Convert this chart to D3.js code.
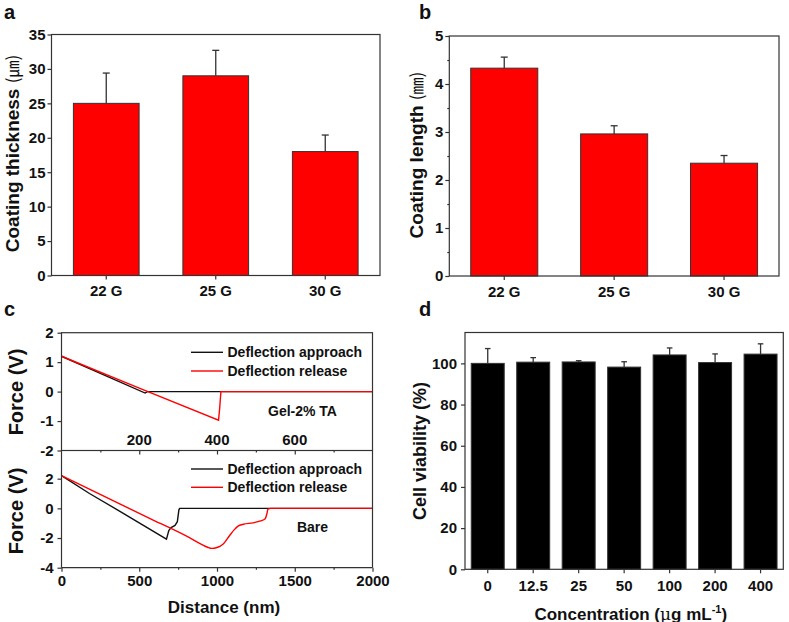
<!DOCTYPE html>
<html>
<head>
<meta charset="utf-8">
<script src="https://cdn.jsdelivr.net/npm/d3@7"></script>
<style>
  body { margin: 0; background: #fff; }
  svg { display: block; font-family: "Liberation Sans", Arial, sans-serif; }
  .tick text { font-weight: bold; font-size: 15px; fill: #111; font-family: "Liberation Sans", Arial, sans-serif; }
  .tick line { stroke: #333; stroke-width: 1.2; }
</style>
</head>
<body>
<div id="chart"></div>
<script>
// panel a: coating thickness
const needleCats = ["22 G", "25 G", "30 G"];
const thickVals = [25, 29, 18];
const thickErr = [4.4, 3.7, 2.4];
const thickTicks = [0, 5, 10, 15, 20, 25, 30, 35];

// panel b: coating length
const lengthVals = [4.33, 2.96, 2.35];
const lengthErr = [0.23, 0.17, 0.16];
const lengthTicks = [0, 1, 2, 3, 4, 5];
const lengthMinor = [0.5, 1.5, 2.5, 3.5, 4.5];

// panel c: force curves (distance nm, force V)
const gelApproach = [[0, 1.2], [100, 0.62], [215, -0.05], [221, 0], [800, 0]];
const gelRelease = [[0, 1.2], [200, 0.12], [404, -0.97], [407, -0.55], [410, 0], [800, 0]];
const bareApproach = [[0, 2.2], [180, 1.0], [400, -0.35], [675, -2.08], [690, -1.5], [705, -1.3],
  [730, -1.15], [745, -0.9], [755, -0.1], [760, 0], [2000, 0]];
const bareRelease = [[0, 2.2], [560, -0.64], [820, -1.96], [900, -2.42], [940, -2.62], [965, -2.7],
  [1000, -2.64], [1040, -2.4], [1080, -1.85], [1110, -1.45], [1135, -1.2], [1170, -1.07],
  [1230, -0.98], [1280, -0.85], [1310, -0.7], [1320, -0.4], [1328, -0.05], [1345, 0], [2000, 0]];
const gelXTicks = [200, 400, 600];
const gelXMinor = [100, 300, 500, 700];
const gelYTicks = [-2, -1, 0, 1, 2];
const bareXTicks = [0, 500, 1000, 1500, 2000];
const bareXMinor = [250, 750, 1250, 1750];
const bareYTicks = [-4, -2, 0, 2];

// panel d: cell viability
const concCats = ["0", "12.5", "25", "50", "100", "200", "400"];
const viabVals = [100, 100.6, 100.7, 98.2, 104.1, 100.4, 104.5];
const viabErr = [7.2, 2.2, 0.6, 2.6, 3.4, 4.2, 5.0];
const viabTicks = [0, 20, 40, 60, 80, 100];

const W = 789, H = 622;
const svg = d3.select("#chart").append("svg").attr("width", W).attr("height", H);
const bold = "bold";
const fmt = d => String(d);

function frame(l, t, r, b) {
  svg.append("rect").attr("x", l).attr("y", t).attr("width", r - l).attr("height", b - t)
    .attr("fill", "none").attr("stroke", "#333").attr("stroke-width", 1.2);
}

function tidy(g) { g.select(".domain").remove(); }

function yLabel(x, y, size, main, unit, unitFont) {
  const t = svg.append("text").attr("transform", `translate(${x},${y}) rotate(-90)`)
    .attr("text-anchor", "middle").attr("font-size", size).attr("font-weight", bold).attr("fill", "#111");
  t.append("tspan").text(main);
  if (unit) t.append("tspan").attr("font-weight", "normal").attr("font-size", size - 2)
    .attr("font-family", unitFont).text(unit);
  return t;
}

function panelLetter(x, y, s) {
  svg.append("text").attr("x", x).attr("y", y).attr("font-size", 20).attr("font-weight", bold)
    .attr("fill", "#111").text(s);
}

function barPanel(o) {
  const x = d3.scaleBand().domain(o.cats).range([o.l, o.r]).paddingInner(o.pad).paddingOuter(o.pad / 2);
  const y = d3.scaleLinear().domain(o.dom).range([o.b, o.t]);

  const bars = svg.append("g");
  o.vals.forEach((v, i) => {
    const cx = x(o.cats[i]) + x.bandwidth() / 2;
    const top = y(v + o.errs[i]);
    bars.append("line").attr("x1", cx).attr("x2", cx).attr("y1", y(v)).attr("y2", top)
      .attr("stroke", "#333").attr("stroke-width", 1.3);
    bars.append("line").attr("x1", cx - o.cap).attr("x2", cx + o.cap).attr("y1", top).attr("y2", top)
      .attr("stroke", "#333").attr("stroke-width", 1.3);
  });
  bars.selectAll("rect").data(o.vals).enter().append("rect")
    .attr("x", (d, i) => x(o.cats[i])).attr("y", d => y(d))
    .attr("width", x.bandwidth()).attr("height", d => o.b - y(d))
    .attr("fill", o.fill).attr("stroke", "#333").attr("stroke-width", 1);

  svg.append("g").attr("transform", `translate(${o.l},0)`)
    .call(d3.axisLeft(y).tickValues(o.ticks).tickFormat(fmt).tickSize(4).tickPadding(o.yPad)).call(tidy);
  if (o.minor) {
    svg.append("g").attr("transform", `translate(${o.l},0)`)
      .call(d3.axisLeft(y).tickValues(o.minor).tickSize(2).tickFormat("")).call(tidy);
  }
  svg.append("g").attr("transform", `translate(0,${o.b})`)
    .call(d3.axisBottom(x).tickSize(4).tickPadding(o.xPad)).call(tidy);
  frame(o.l, o.t, o.r, o.b);
}

// ---- a ----
panelLetter(4, 19, "a");
barPanel({ cats: needleCats, vals: thickVals, errs: thickErr, dom: [0, 35], ticks: thickTicks,
  l: 51.5, r: 380, t: 34.5, b: 275.5, pad: 0.4, cap: 3.5, fill: "#ff0000", yPad: 2, xPad: 6 });
yLabel(19, 153.5, 19, "Coating thickness ", "(㎛)", "'Noto Sans CJK JP'");

// ---- b ----
panelLetter(419, 19, "b");
barPanel({ cats: needleCats, vals: lengthVals, errs: lengthErr, dom: [0, 5], ticks: lengthTicks,
  minor: lengthMinor, l: 449.3, r: 779, t: 36, b: 276, pad: 0.39, cap: 3.5, fill: "#ff0000", yPad: 2, xPad: 6 });
yLabel(423, 155, 19, "Coating length ", "(㎜)", "'Noto Sans CJK JP'");

// ---- c ----
panelLetter(4, 316, "c");
const cl = 61.5, cr = 372.5;
const xg = d3.scaleLinear().domain([0, 800]).range([cl, cr]);
const yg = d3.scaleLinear().domain([-2, 2]).range([450.5, 332.7]);
const xb = d3.scaleLinear().domain([0, 2000]).range([cl, cr]);
const yb = d3.scaleLinear().domain([-4, 4]).range([567.7, 449]);

const lineG = d3.line().x(d => xg(d[0])).y(d => yg(d[1]));
const lineB = d3.line().x(d => xb(d[0])).y(d => yb(d[1]));
const lineBs = d3.line().x(d => xb(d[0])).y(d => yb(d[1])).curve(d3.curveMonotoneX);

svg.append("path").datum(gelApproach).attr("d", lineG).attr("fill", "none").attr("stroke", "#111").attr("stroke-width", 1.4);
svg.append("path").datum(gelRelease).attr("d", lineG).attr("fill", "none").attr("stroke", "#ff0000").attr("stroke-width", 1.4);
svg.append("path").datum(bareApproach).attr("d", lineB).attr("fill", "none").attr("stroke", "#111").attr("stroke-width", 1.4);
svg.append("path").datum(bareRelease).attr("d", lineBs).attr("fill", "none").attr("stroke", "#ff0000").attr("stroke-width", 1.4);

// top subplot axes
svg.append("g").attr("transform", `translate(${cl},0)`)
  .call(d3.axisLeft(yg).tickValues(gelYTicks).tickFormat(fmt).tickSize(4).tickPadding(4)).call(tidy);
svg.append("g").attr("transform", `translate(0,${yg(-2)})`)
  .call(d3.axisBottom(xg).tickValues(gelXTicks).tickSize(4).tickFormat("")).call(tidy);
svg.append("g").attr("transform", `translate(0,${yg(-2)})`)
  .call(d3.axisBottom(xg).tickValues(gelXMinor).tickSize(2).tickFormat("")).call(tidy);
gelXTicks.forEach(v => {
  svg.append("text").attr("x", xg(v)).attr("y", 445).attr("text-anchor", "middle")
    .attr("font-size", 15).attr("font-weight", bold).attr("fill", "#111").text(v);
});
frame(cl, yg(2), cr, yg(-2));

// bottom subplot axes
svg.append("g").attr("transform", `translate(${cl},0)`)
  .call(d3.axisLeft(yb).tickValues(bareYTicks).tickFormat(fmt).tickSize(4).tickPadding(4)).call(tidy);
svg.append("g").attr("transform", `translate(0,${yb(-4)})`)
  .call(d3.axisBottom(xb).tickValues(bareXTicks).tickFormat(fmt).tickSize(4).tickPadding(4)).call(tidy);
svg.append("g").attr("transform", `translate(0,${yb(-4)})`)
  .call(d3.axisBottom(xb).tickValues(bareXMinor).tickSize(2).tickFormat("")).call(tidy);
svg.append("line").attr("x1", cl).attr("x2", cl).attr("y1", yg(-2)).attr("y2", yb(-4)).attr("stroke", "#333").attr("stroke-width", 1.2);
svg.append("line").attr("x1", cr).attr("x2", cr).attr("y1", yg(-2)).attr("y2", yb(-4)).attr("stroke", "#333").attr("stroke-width", 1.2);
svg.append("line").attr("x1", cl).attr("x2", cr).attr("y1", yb(-4)).attr("y2", yb(-4)).attr("stroke", "#333").attr("stroke-width", 1.2);

// legends
function legend(y0, gap) {
  [["Deflection approach", "#111"], ["Deflection release", "#ff0000"]].forEach((e, i) => {
    const yy = y0 + i * gap;
    svg.append("line").attr("x1", 191).attr("x2", 223).attr("y1", yy).attr("y2", yy)
      .attr("stroke", e[1]).attr("stroke-width", 1.4);
    svg.append("text").attr("x", 227.5).attr("y", yy + 5).attr("font-size", 14).attr("font-weight", bold)
      .attr("fill", "#111").text(e[0]);
  });
}
legend(352.3, 18.7);
legend(469, 18.3);
svg.append("text").attr("x", 302.5).attr("y", 415.7).attr("text-anchor", "middle").attr("font-size", 14)
  .attr("font-weight", bold).attr("fill", "#111").text("Gel-2% TA");
svg.append("text").attr("x", 312.5).attr("y", 532.3).attr("text-anchor", "middle").attr("font-size", 14)
  .attr("font-weight", bold).attr("fill", "#111").text("Bare");

yLabel(23, 392, 20, "Force (V)");
yLabel(23, 511, 20, "Force (V)");
svg.append("text").attr("x", 224).attr("y", 613.3).attr("text-anchor", "middle").attr("font-size", 17)
  .attr("font-weight", bold).attr("fill", "#111").text("Distance (nm)");

// ---- d ----
panelLetter(419, 316, "d");
barPanel({ cats: concCats, vals: viabVals, errs: viabErr, dom: [0, 115], ticks: viabTicks,
  l: 465, r: 783.3, t: 332.5, b: 569.3, pad: 0.275, cap: 2.8, fill: "#000000", yPad: 4, xPad: 7.5 });
yLabel(426, 451, 18, "Cell viability (%)");
const cx = svg.append("text").attr("x", 630.8).attr("y", 619.5).attr("text-anchor", "middle")
  .attr("font-size", 17).attr("font-weight", bold).attr("fill", "#111");
cx.append("tspan").text("Concentration (");
cx.append("tspan").attr("font-weight", "normal").attr("font-family", "'DejaVu Serif', serif").text("μ");
cx.append("tspan").text("g mL");
cx.append("tspan").attr("font-size", 11).attr("dy", -7).text("-1");
cx.append("tspan").attr("dy", 7).text(")");
</script>
</body>
</html>
